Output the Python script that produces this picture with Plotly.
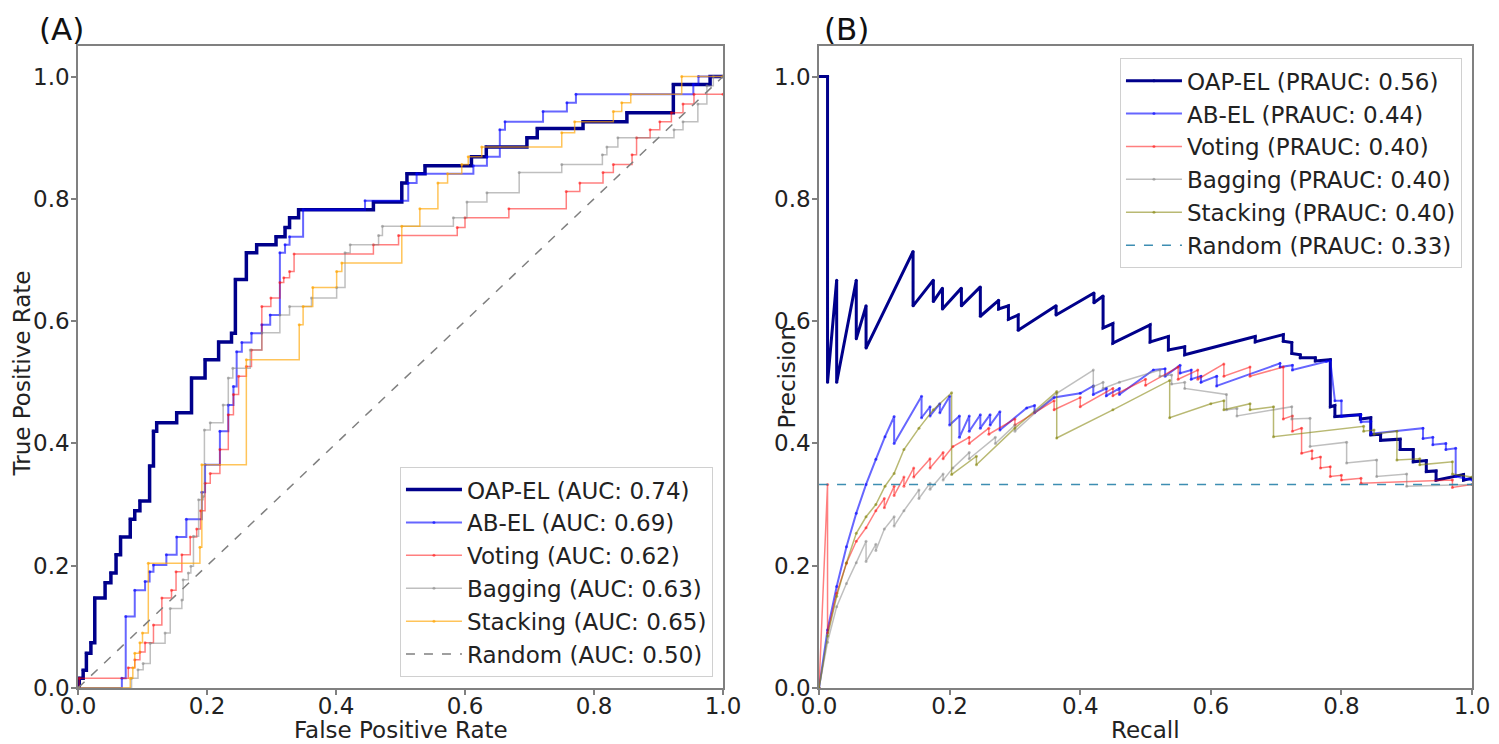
import plotly.graph_objects as go

# ---------------- Panel A: ROC curves (fpr, tpr step corners) ----------------
roc_oap_fpr = [0, 0.002, 0.008, 0.013, 0.020, 0.026, 0.042, 0.051, 0.059, 0.066, 0.081, 0.088, 0.096, 0.111, 0.117, 0.122, 0.153, 0.176, 0.197, 0.218, 0.238, 0.244, 0.261, 0.277, 0.307, 0.321, 0.328, 0.342, 0.458, 0.502, 0.510, 0.538, 0.610, 0.633, 0.696, 0.712, 0.783, 0.851, 0.923, 0.980, 1.0]
roc_oap_tpr = [0, 0.016, 0.029, 0.057, 0.074, 0.147, 0.172, 0.188, 0.218, 0.247, 0.276, 0.290, 0.306, 0.363, 0.420, 0.434, 0.450, 0.507, 0.537, 0.566, 0.580, 0.668, 0.712, 0.725, 0.738, 0.753, 0.769, 0.782, 0.795, 0.826, 0.841, 0.854, 0.869, 0.885, 0.900, 0.915, 0.926, 0.941, 0.987, 1.0, 1.0]

roc_ab_fpr = [0, 0.068, 0.074, 0.088, 0.104, 0.111, 0.117, 0.137, 0.153, 0.168, 0.192, 0.197, 0.220, 0.233, 0.241, 0.246, 0.254, 0.269, 0.285, 0.298, 0.313, 0.321, 0.328, 0.349, 0.445, 0.512, 0.525, 0.613, 0.634, 0.654, 0.662, 0.721, 0.758, 0.772, 0.954, 0.962, 1.0]
roc_ab_tpr = [0, 0.016, 0.117, 0.160, 0.174, 0.190, 0.201, 0.218, 0.247, 0.276, 0.320, 0.365, 0.420, 0.463, 0.493, 0.550, 0.565, 0.580, 0.594, 0.610, 0.712, 0.725, 0.738, 0.782, 0.797, 0.826, 0.841, 0.854, 0.869, 0.913, 0.926, 0.943, 0.957, 0.971, 0.987, 1.0, 1.0]

roc_vot_fpr = [0, 0.002, 0.078, 0.088, 0.096, 0.104, 0.117, 0.130, 0.145, 0.152, 0.161, 0.174, 0.184, 0.190, 0.197, 0.205, 0.220, 0.233, 0.241, 0.249, 0.261, 0.269, 0.285, 0.299, 0.313, 0.319, 0.328, 0.335, 0.458, 0.497, 0.588, 0.600, 0.668, 0.757, 0.778, 0.814, 0.830, 0.859, 0.866, 0.887, 0.902, 0.920, 0.938, 0.955, 1.0]
roc_vot_tpr = [0, 0.016, 0.033, 0.046, 0.059, 0.074, 0.103, 0.147, 0.160, 0.190, 0.218, 0.247, 0.260, 0.290, 0.335, 0.351, 0.390, 0.447, 0.480, 0.510, 0.526, 0.553, 0.624, 0.638, 0.663, 0.671, 0.681, 0.710, 0.725, 0.740, 0.753, 0.769, 0.784, 0.812, 0.826, 0.843, 0.856, 0.872, 0.900, 0.913, 0.926, 0.941, 0.955, 0.971, 0.971]

roc_bag_fpr = [0, 0.083, 0.093, 0.101, 0.112, 0.135, 0.143, 0.161, 0.163, 0.171, 0.175, 0.179, 0.187, 0.194, 0.196, 0.205, 0.225, 0.233, 0.240, 0.267, 0.285, 0.313, 0.328, 0.362, 0.401, 0.414, 0.422, 0.466, 0.472, 0.582, 0.603, 0.634, 0.684, 0.750, 0.813, 0.820, 0.837, 0.924, 0.938, 0.961, 0.975, 0.985, 1.0]
roc_bag_tpr = [0, 0.016, 0.030, 0.040, 0.073, 0.090, 0.130, 0.144, 0.177, 0.188, 0.199, 0.248, 0.308, 0.313, 0.422, 0.434, 0.463, 0.507, 0.523, 0.553, 0.581, 0.610, 0.624, 0.638, 0.655, 0.712, 0.725, 0.740, 0.755, 0.769, 0.795, 0.810, 0.843, 0.856, 0.872, 0.885, 0.900, 0.913, 0.926, 0.955, 0.985, 1.0, 1.0]

roc_stk_fpr = [0, 0.081, 0.085, 0.088, 0.096, 0.100, 0.109, 0.189, 0.192, 0.261, 0.343, 0.349, 0.364, 0.401, 0.409, 0.502, 0.530, 0.558, 0.573, 0.595, 0.605, 0.626, 0.750, 0.770, 0.830, 0.843, 0.857, 0.936, 1.0]
roc_stk_tpr = [0, 0.016, 0.033, 0.057, 0.074, 0.090, 0.204, 0.230, 0.365, 0.537, 0.594, 0.624, 0.655, 0.681, 0.695, 0.755, 0.784, 0.826, 0.841, 0.856, 0.869, 0.885, 0.908, 0.926, 0.943, 0.957, 0.971, 1.0, 1.0]

roc_rand = [0.0, 1.0]

# ---------------- Panel B: Precision-Recall curves (recall, precision) ----------------
pr_oap_rec = [0.0, 0.013, 0.013, 0.027, 0.027, 0.057, 0.057, 0.072, 0.072, 0.144, 0.144, 0.175, 0.175, 0.189, 0.189, 0.218, 0.218, 0.247, 0.247, 0.275, 0.275, 0.290, 0.290, 0.305, 0.305, 0.363, 0.363, 0.421, 0.421, 0.435, 0.435, 0.450, 0.450, 0.507, 0.507, 0.535, 0.535, 0.560, 0.560, 0.668, 0.668, 0.711, 0.711, 0.724, 0.724, 0.737, 0.737, 0.760, 0.760, 0.783, 0.783, 0.790, 0.790, 0.829, 0.829, 0.845, 0.845, 0.860, 0.860, 0.890, 0.890, 0.910, 0.910, 0.930, 0.930, 0.945, 0.945, 0.987, 0.987, 1.0]
pr_oap_pre = [1.0, 1.0, 0.500, 0.667, 0.500, 0.667, 0.571, 0.625, 0.556, 0.714, 0.625, 0.667, 0.632, 0.654, 0.620, 0.654, 0.625, 0.656, 0.608, 0.634, 0.620, 0.625, 0.603, 0.610, 0.585, 0.625, 0.610, 0.646, 0.630, 0.641, 0.589, 0.596, 0.564, 0.594, 0.566, 0.575, 0.553, 0.558, 0.545, 0.575, 0.566, 0.578, 0.567, 0.565, 0.547, 0.545, 0.540, 0.540, 0.535, 0.537, 0.460, 0.462, 0.444, 0.447, 0.440, 0.442, 0.414, 0.415, 0.405, 0.407, 0.390, 0.390, 0.370, 0.372, 0.354, 0.355, 0.340, 0.349, 0.340, 0.343]

pr_ab_rec = [0.0, 0.013, 0.027, 0.042, 0.057, 0.072, 0.087, 0.101, 0.115, 0.115, 0.157, 0.157, 0.170, 0.170, 0.185, 0.185, 0.200, 0.200, 0.215, 0.215, 0.230, 0.230, 0.247, 0.247, 0.262, 0.262, 0.277, 0.277, 0.318, 0.330, 0.330, 0.360, 0.400, 0.420, 0.420, 0.440, 0.440, 0.460, 0.460, 0.512, 0.530, 0.530, 0.553, 0.553, 0.570, 0.570, 0.585, 0.585, 0.609, 0.609, 0.706, 0.706, 0.725, 0.725, 0.777, 0.783, 0.790, 0.800, 0.800, 0.830, 0.830, 0.845, 0.845, 0.925, 0.925, 0.940, 0.940, 0.960, 0.960, 0.975, 0.975, 1.0]
pr_ab_pre = [0.0, 0.095, 0.166, 0.231, 0.286, 0.333, 0.374, 0.411, 0.444, 0.400, 0.477, 0.442, 0.460, 0.445, 0.465, 0.450, 0.477, 0.430, 0.445, 0.410, 0.445, 0.420, 0.447, 0.425, 0.447, 0.430, 0.452, 0.422, 0.458, 0.462, 0.450, 0.475, 0.482, 0.494, 0.480, 0.490, 0.478, 0.490, 0.480, 0.520, 0.522, 0.510, 0.528, 0.515, 0.520, 0.505, 0.510, 0.500, 0.510, 0.494, 0.531, 0.525, 0.528, 0.520, 0.534, 0.535, 0.470, 0.470, 0.444, 0.447, 0.435, 0.436, 0.416, 0.425, 0.408, 0.410, 0.398, 0.400, 0.390, 0.392, 0.346, 0.340]

pr_vot_rec = [0.0, 0.013, 0.013, 0.027, 0.042, 0.057, 0.072, 0.087, 0.100, 0.100, 0.115, 0.115, 0.130, 0.130, 0.145, 0.145, 0.170, 0.170, 0.190, 0.190, 0.205, 0.230, 0.230, 0.260, 0.260, 0.300, 0.300, 0.360, 0.360, 0.400, 0.400, 0.450, 0.450, 0.500, 0.500, 0.550, 0.550, 0.580, 0.580, 0.620, 0.620, 0.660, 0.660, 0.711, 0.711, 0.725, 0.725, 0.739, 0.739, 0.755, 0.755, 0.768, 0.768, 0.783, 0.783, 0.800, 0.800, 0.830, 0.830, 0.970, 0.970, 1.0]
pr_vot_pre = [0.0, 0.333, 0.090, 0.155, 0.204, 0.240, 0.262, 0.290, 0.310, 0.295, 0.330, 0.315, 0.345, 0.330, 0.360, 0.345, 0.375, 0.360, 0.385, 0.375, 0.395, 0.410, 0.400, 0.425, 0.415, 0.440, 0.430, 0.470, 0.455, 0.475, 0.460, 0.490, 0.478, 0.505, 0.495, 0.525, 0.505, 0.520, 0.505, 0.530, 0.510, 0.525, 0.510, 0.525, 0.440, 0.445, 0.420, 0.425, 0.384, 0.388, 0.375, 0.378, 0.360, 0.362, 0.346, 0.348, 0.340, 0.343, 0.335, 0.340, 0.328, 0.333]

pr_bag_rec = [0.0, 0.013, 0.027, 0.042, 0.057, 0.072, 0.072, 0.087, 0.087, 0.100, 0.115, 0.115, 0.130, 0.153, 0.153, 0.170, 0.170, 0.190, 0.190, 0.205, 0.230, 0.230, 0.270, 0.270, 0.300, 0.300, 0.364, 0.420, 0.420, 0.435, 0.435, 0.460, 0.522, 0.522, 0.540, 0.540, 0.560, 0.560, 0.624, 0.624, 0.640, 0.640, 0.724, 0.724, 0.752, 0.752, 0.808, 0.808, 0.854, 0.854, 0.900, 0.900, 1.0]
pr_bag_pre = [0.0, 0.075, 0.133, 0.171, 0.205, 0.240, 0.207, 0.235, 0.225, 0.260, 0.280, 0.265, 0.290, 0.324, 0.310, 0.335, 0.325, 0.350, 0.340, 0.360, 0.385, 0.375, 0.410, 0.400, 0.430, 0.420, 0.482, 0.520, 0.493, 0.500, 0.490, 0.500, 0.520, 0.510, 0.512, 0.497, 0.500, 0.490, 0.480, 0.455, 0.457, 0.445, 0.460, 0.440, 0.441, 0.395, 0.402, 0.368, 0.373, 0.346, 0.350, 0.330, 0.333]

pr_stk_rec = [0.0, 0.013, 0.027, 0.042, 0.057, 0.072, 0.087, 0.101, 0.115, 0.130, 0.153, 0.175, 0.203, 0.203, 0.241, 0.241, 0.300, 0.364, 0.364, 0.450, 0.537, 0.537, 0.600, 0.620, 0.620, 0.660, 0.660, 0.696, 0.696, 0.834, 0.834, 0.850, 0.850, 0.885, 0.885, 0.920, 0.920, 0.970, 0.970, 1.0]
pr_stk_pre = [0.0, 0.085, 0.150, 0.205, 0.253, 0.280, 0.300, 0.330, 0.351, 0.390, 0.425, 0.455, 0.483, 0.349, 0.379, 0.365, 0.425, 0.485, 0.409, 0.455, 0.503, 0.442, 0.465, 0.470, 0.455, 0.465, 0.455, 0.460, 0.411, 0.428, 0.420, 0.422, 0.415, 0.420, 0.373, 0.375, 0.365, 0.370, 0.350, 0.345]

pr_rand_rec = [0.0, 1.0]
pr_rand_pre = [0.333, 0.333]

# labels
roc_names = ["OAP-EL (AUC: 0.74)", "AB-EL (AUC: 0.69)", "Voting (AUC: 0.62)",
             "Bagging (AUC: 0.63)", "Stacking (AUC: 0.65)", "Random (AUC: 0.50)"]
pr_names = ["OAP-EL (PRAUC: 0.56)", "AB-EL (PRAUC: 0.44)", "Voting (PRAUC: 0.40)",
            "Bagging (PRAUC: 0.40)", "Stacking (PRAUC: 0.40)", "Random (PRAUC: 0.33)"]
tick_vals = [0.0, 0.2, 0.4, 0.6, 0.8, 1.0]

FONT = "DejaVu Sans"
FS = 23
C_OAP = "#00008B"
C_AB = "rgba(0,0,255,0.6)"
C_VOT = "rgba(255,0,0,0.5)"
C_BAG = "rgba(128,128,128,0.5)"
C_STK_A = "rgba(255,165,0,0.65)"
C_STK_B = "rgba(128,128,0,0.55)"

fig = go.Figure()

roc_series = [
    (roc_oap_fpr, roc_oap_tpr, C_OAP, 3.5),
    (roc_ab_fpr, roc_ab_tpr, C_AB, 2.0),
    (roc_vot_fpr, roc_vot_tpr, C_VOT, 1.5),
    (roc_bag_fpr, roc_bag_tpr, C_BAG, 1.5),
    (roc_stk_fpr, roc_stk_tpr, C_STK_A, 1.5),
]
for (xs, ys, col, w), name in zip(roc_series, roc_names[:5]):
    fig.add_trace(go.Scatter(x=xs, y=ys, mode="lines+markers", name=name,
                             line=dict(color=col, width=w, shape="hv"),
                             marker=dict(color=col, size=3),
                             xaxis="x", yaxis="y", legend="legend"))
fig.add_trace(go.Scatter(x=roc_rand, y=roc_rand, mode="lines", name=roc_names[5],
                         line=dict(color="gray", width=1.5, dash="dash"),
                         xaxis="x", yaxis="y", legend="legend"))

pr_series = [
    (pr_oap_rec, pr_oap_pre, C_OAP, 3.0),
    (pr_ab_rec, pr_ab_pre, C_AB, 2.0),
    (pr_vot_rec, pr_vot_pre, C_VOT, 1.5),
    (pr_bag_rec, pr_bag_pre, C_BAG, 1.5),
    (pr_stk_rec, pr_stk_pre, C_STK_B, 1.5),
]
for (xs, ys, col, w), name in zip(pr_series, pr_names[:5]):
    fig.add_trace(go.Scatter(x=xs, y=ys, mode="lines+markers", name=name,
                             line=dict(color=col, width=w),
                             marker=dict(color=col, size=3),
                             xaxis="x2", yaxis="y2", legend="legend2"))
fig.add_trace(go.Scatter(x=pr_rand_rec, y=pr_rand_pre, mode="lines", name=pr_names[5],
                         line=dict(color="rgba(40,130,170,0.9)", width=1.5, dash="dash"),
                         xaxis="x2", yaxis="y2", legend="legend2"))

axis_common = dict(
    range=[0, 1], tickvals=tick_vals, ticktext=[f"{v:.1f}" for v in tick_vals],
    showline=True, mirror=True, linecolor="#808080", linewidth=1.5,
    ticks="outside", ticklen=5, tickcolor="#808080", tickwidth=1.5,
    showgrid=False, zeroline=False, automargin=False,
    tickfont=dict(family=FONT, size=FS, color="#222"),
)
xaxis_common = dict(axis_common, ticklabelstandoff=-8)
yaxis_common = dict(axis_common, ticklabelstandoff=-3)
yaxis_common["range"] = [0, 1.05]

legend_common = dict(
    font=dict(family=FONT, size=FS, color="#222"),
    bgcolor="rgba(255,255,255,0.9)", bordercolor="#d0d0d0", borderwidth=1,
    itemwidth=56, tracegroupgap=0,
)

title_font = dict(family=FONT, size=FS, color="#222")
panel_font = dict(family=FONT, size=31, color="#111")

# The page body adds an 8px offset, so the figure is drawn 8px smaller.
fig.update_layout(
    width=1491, height=736,
    margin=dict(l=70, r=27, t=38, b=56),
    paper_bgcolor="white", plot_bgcolor="white",
    font=dict(family=FONT, size=FS, color="#222"),
    xaxis=dict(xaxis_common, domain=[0, 0.4627], anchor="y"),
    yaxis=dict(yaxis_common, domain=[0, 1], anchor="x"),
    xaxis2=dict(xaxis_common, domain=[0.5316, 1], anchor="y2"),
    yaxis2=dict(yaxis_common, domain=[0, 1], anchor="x2"),
    legend=dict(legend_common, x=0.4555, y=0.017, xanchor="right", yanchor="bottom"),
    legend2=dict(legend_common, x=0.9928, y=0.981, xanchor="right", yanchor="top"),
    showlegend=True,
    annotations=[
        dict(text="(A)", xref="paper", yref="paper", x=-0.0294, y=1.0265,
             xanchor="left", yanchor="middle", showarrow=False, font=panel_font),
        dict(text="(B)", xref="paper", yref="paper", x=0.5337, y=1.0265,
             xanchor="left", yanchor="middle", showarrow=False, font=panel_font),
        dict(text="False Positive Rate", xref="paper", yref="paper", x=0.23135, y=-0.0654,
             xanchor="center", yanchor="middle", showarrow=False, font=title_font),
        dict(text="Recall", xref="paper", yref="paper", x=0.7658, y=-0.0654,
             xanchor="center", yanchor="middle", showarrow=False, font=title_font),
        dict(text="True Positive Rate", xref="paper", yref="paper", x=-0.0402, y=0.49,
             xanchor="center", yanchor="middle", textangle=-90, showarrow=False, font=title_font),
        dict(text="Precision", xref="paper", yref="paper", x=0.5086, y=0.485,
             xanchor="center", yanchor="middle", textangle=-90, showarrow=False, font=title_font),
    ],
)

fig.write_html("out.html")
